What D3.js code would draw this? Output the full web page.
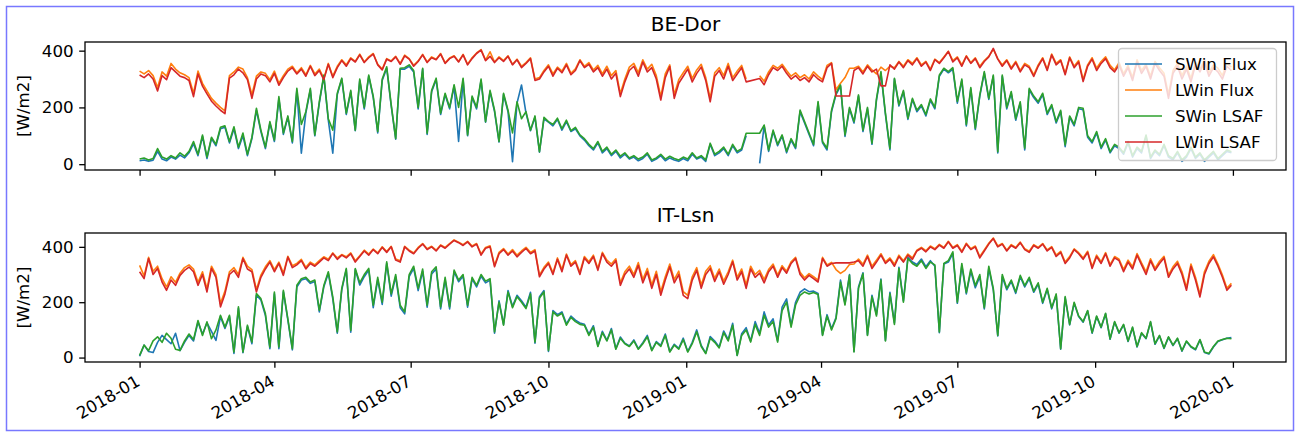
<!DOCTYPE html>
<html>
<head>
<meta charset="utf-8">
<script src="https://cdn.jsdelivr.net/npm/d3@7"></script>
<style>
  body { margin: 0; background: #fff; }
  text { font-family: "DejaVu Sans", sans-serif; fill: #000; }
</style>
</head>
<body>
<svg id="chart" width="1295" height="432"></svg>
<script>
// one value every 3 days, 2018-01-01 .. 2019-12-31 (null = missing day)
const startDate = new Date(2018, 0, 1);
const stepDays = 3;

const tickLabels = ['2018-01', '2018-04', '2018-07', '2018-10', '2019-01', '2019-04', '2019-07', '2019-10', '2020-01'];
const yTickValues = [0, 200, 400];
const seriesNames = ['SWin Flux', 'LWin Flux', 'SWin LSAF', 'LWin LSAF'];
const siteNames = ['BE-Dor', 'IT-Lsn'];

// BE-Dor
const beSwinFlux = [
  12, 15, 10, 14, 45, 18, 12, 25, 18, 32,
  22, 40, 72, 30, 98, 20, 90, 65, 125, 130,
  75, 125, 55, 100, 30, 90, 190, 115, 55, 145,
  80, 230, 105, 165, 75, 260, 39, 180, 262, 100,
  215, 310, 155, 39, 245, 300, 175, 255, 118, 295,
  195, 310, 235, 110, 295, 338, 205, 88, 335, 335,
  345, 325, 195, 335, 105, 255, 298, 175, 245, 195,
  275, 80, 298, 100, 235, 195, 295, 148, 255, 185,
  78, 245, 185, 9, 215, 279, 180, 118, 165, 42,
  160, 148, 135, 158, 120, 150, 115, 125, 100, 85,
  65, 50, 75, 40, 55, 30, 45, 22, 35, 18,
  25, 12, 20, 35, 10, 18, 30, 12, 22, 15,
  10, 20, 12, 35, 18, 25, 10, 70, 30, 40,
  55, 30, 65, 40, 50, 100, null, null, 3, 135,
  45, 115, 65, 100, 40, 85, 55, 185, 145, 105,
  65, 215, 75, 50, 185, 245, 275, 98, 195, 145,
  240, 115, 195, 70, 225, 320, 175, 50, 300, 205,
  255, 158, 228, 185, 205, 170, 225, 195, 310, 335,
  322, 335, 215, 295, 135, 265, 122, 240, 322, 228,
  310, 40, 310, 195, 250, 155, 215, 50, 262, 235,
  215, 245, 175, 205, 145, 185, 62, 165, 135, 195,
  192, 95, 75, 110, 55, 85, 40, 65, 55, 35,
  75, 25, 55, 40, 98, 20, 45, 30, 65, 25,
  15, 40, 10, 25, 55, 20, 35, 10, 25, 40,
  15, 30, 45, 40
];
const beLwinFlux = [
  328, 318, 330, 312, 270, 325, 310, 355, 335, 322,
  315, 305, 250, 328, 285, 258, 232, 215, 200, 188,
  312, 325, 342, 335, 305, 245, 310, 325, 320, 298,
  328, 285, 312, 335, 345, 322, 340, 315, 348, 318,
  335, 302, 355, 310, 345, 368, 350, 375, 362, 388,
  360, 378, 390, 352, 335, 372, 364, 380, 355, 384,
  372, 348, 364, 387, 360, 378, 370, 390, 357, 374,
  382, 362, 387, 352, 375, 392, 404, 367, 396, 360,
  378, 365, 382, 352, 370, 345, 358, 375, 300, 305,
  330, 350, 318, 342, 328, 355, 320, 336, 368, 345,
  358, 332, 348, 318, 345, 312, 330, 248, 300, 342,
  355, 322, 368, 335, 352, 312, 238, 318, 350, 245,
  298, 322, 345, 302, 332, 352, 305, 232, 322, 340,
  312, 355, 305, 328, 348, 300, null, null, 312, 292,
  325, 348, 338, 352, 330, 310, 322, 305, 315, 300,
  325, 310, 298, 348, 358, 262, 285, 305, 338, 338,
  345, 325, 350, 332, 318, 342, 330, 345, 340, 362,
  345, 368, 355, 375, 350, 362, 335, 370, 358, 378,
  398, 365, 378, 350, 382, 358, 375, 345, 365, 380,
  405, 372, 350, 368, 340, 362, 330, 355, 345, 315,
  350, 375, 335, 388, 355, 368, 320, 378, 345, 365,
  298, 350, 375, 338, 362, 378, 348, 332, 358, 318,
  348, 305, 368, 330, 352, 310, 362, 340, 320, 245,
  330, 355, 312, 345, 302, 360, 335, 368, 322, 350,
  338, 312, 355, 342
];
const beSwinLsaf = [
  18, 22, 15, 20, 55, 25, 18, 30, 22, 40,
  28, 45, 80, 35, 103, 25, 95, 70, 130, 135,
  80, 132, 60, 110, 35, 95, 197, 120, 60, 150,
  85, 238, 110, 170, 80, 267, 140, 185, 267, 103,
  220, 314, 160, 120, 250, 303, 180, 260, 120, 300,
  200, 314, 240, 115, 300, 343, 210, 91, 338, 340,
  350, 330, 200, 338, 109, 260, 303, 180, 250, 200,
  280, 200, 303, 103, 240, 200, 300, 150, 260, 190,
  80, 250, 190, 110, 220, 160, 185, 120, 170, 44,
  165, 150, 140, 162, 125, 155, 118, 130, 103, 90,
  70, 55, 80, 45, 60, 35, 50, 28, 40, 22,
  30, 18, 25, 40, 15, 22, 35, 18, 28, 20,
  15, 25, 18, 40, 22, 30, 15, 74, 35, 45,
  60, 35, 70, 45, 55, 109, null, null, 109, 138,
  50, 120, 70, 103, 45, 90, 60, 191, 150, 110,
  70, 221, 80, 56, 190, 250, 279, 103, 200, 150,
  244, 120, 200, 74, 230, 326, 180, 56, 303, 210,
  260, 162, 232, 190, 210, 175, 230, 200, 314, 338,
  326, 340, 221, 300, 140, 270, 127, 244, 326, 232,
  314, 44, 314, 200, 256, 160, 220, 56, 267, 240,
  220, 250, 180, 210, 150, 190, 68, 170, 140, 200,
  197, 100, 80, 115, 60, 90, 44, 70, 60, 40,
  80, 30, 60, 45, 103, 25, 50, 35, 70, 30,
  20, 45, 15, 30, 60, 25, 40, 15, 30, 45,
  20, 35, 50, 44
];
const beLwinLsaf = [
  314, 305, 318, 300, 258, 312, 298, 340, 325, 310,
  305, 295, 238, 318, 275, 248, 222, 205, 190, 178,
  303, 315, 335, 322, 298, 232, 300, 318, 312, 290,
  320, 278, 305, 328, 340, 318, 335, 310, 345, 312,
  330, 298, 352, 305, 340, 365, 345, 372, 360, 385,
  358, 375, 388, 350, 332, 370, 362, 378, 352, 382,
  370, 345, 362, 385, 358, 375, 368, 388, 355, 372,
  380, 360, 385, 350, 372, 390, 402, 365, 380, 358,
  375, 362, 380, 350, 368, 340, 355, 372, 295, 300,
  325, 345, 310, 338, 322, 350, 315, 330, 365, 340,
  352, 325, 340, 310, 335, 300, 320, 238, 290, 330,
  345, 310, 360, 325, 340, 300, 226, 305, 344, 232,
  285, 310, 335, 290, 320, 342, 295, 220, 310, 330,
  300, 345, 295, 318, 340, 290, null, null, 302, 280,
  315, 340, 330, 345, 320, 300, 312, 295, 305, 290,
  315, 300, 290, 340, 355, 240, null, null, 240, 330,
  340, 318, 345, 325, 335, 276, 276, 350, 335, 360,
  340, 365, 350, 372, 345, 360, 330, 368, 355, 375,
  397, 360, 375, 345, 380, 355, 372, 340, 362, 378,
  408, 370, 345, 365, 335, 358, 325, 350, 340, 309,
  345, 372, 330, 385, 350, 365, 315, 375, 340, 360,
  291, 345, 370, 330, 355, 372, 340, 325, 350, 310,
  340, 295, 360, 320, 345, 300, 355, 330, 310, 232,
  320, 345, 300, 335, 290, 350, 325, 361, 310, 340,
  325, 300, 345, 330
];

// IT-Lsn
const itSwinFlux = [
  5, 45, 22, 18, 55, 80, 65, 50, 88, 25,
  55, 80, 60, 128, 85, 125, 95, 62, 148, 105,
  148, 15, 178, 18, 112, 50, 225, 208, 152, 32,
  230, 32, 238, 135, 28, 255, 280, 285, 268, 275,
  165, 255, 305, 212, 88, 245, 318, 92, 318, 262,
  292, 316, 180, 282, 192, 340, 222, 292, 180, 158,
  292, 322, 242, 312, 182, 302, 320, 176, 282, 176,
  310, 274, 294, 182, 284, 255, 294, 270, 280, 88,
  205, 120, 242, 185, 225, 205, 182, 236, 52, 220,
  242, 22, 170, 155, 165, 122, 150, 135, 125, 120,
  85, 115, 42, 95, 62, 105, 32, 74, 52, 42,
  64, 32, 54, 80, 27, 58, 44, 85, 22, 48,
  33, 70, 22, 55, 100, 44, 16, 76, 60, 38,
  96, 65, 124, 8, 86, 108, 60, 130, 88, 165,
  118, 140, 60, 182, 212, 116, 200, 236, 248, 238,
  240, 232, 82, 155, 104, 145, 280, 195, 300, 22,
  255, 306, 82, 225, 155, 284, 62, 236, 125, 326,
  205, 362, 345, 336, 356, 328, 350, 330, 90, 338,
  345, 376, 196, 332, 230, 312, 252, 292, 176, 322,
  245, 78, 292, 245, 275, 232, 292, 255, 285, 236,
  265, 196, 246, 176, 226, 30, 216, 118, 196, 148,
  128, 168, 88, 148, 108, 158, 66, 128, 88, 118,
  58, 108, 38, 88, 68, 128, 48, 78, 33, 73,
  43, 68, 23, 58, 38, 28, 63, 18, 13, 38,
  58, 64, 70, 72
];
const itLwinFlux = [
  333, 295, 362, 312, 330, 285, 255, 292, 272, 305,
  325, 335, 320, 272, 310, 248, 330, 300, 195, 240,
  310, 325, 300, 362, 330, 318, 245, 298, 328, 350,
  318, 345, 305, 366, 332, 340, 355, 326, 345, 335,
  350, 364, 355, 378, 360, 372, 364, 378, 350, 368,
  388, 374, 392, 378, 400, 383, 402, 356, 350, 402,
  388, 378, 398, 412, 393, 402, 388, 407, 398, 412,
  425, 417, 408, 420, 403, 412, 374, 398, 404, 333,
  380, 394, 374, 390, 370, 385, 398, 380, 390, 298,
  326, 345, 306, 360, 318, 374, 336, 350, 308, 365,
  346, 370, 322, 380, 352, 338, 357, 270, 310, 330,
  300, 343, 282, 322, 262, 312, 238, 292, 338, 282,
  312, 238, 225, 292, 325, 262, 312, 332, 286, 320,
  276, 310, 352, 290, 320, 262, 330, 300, 315, 282,
  318, 338, 298, 332, 312, 346, 362, 308, 288, 303,
  292, 280, 362, 335, 344, 318, 304, 315, 336, 338,
  356, 337, 370, 330, 352, 375, 346, 360, 337, 370,
  350, 374, 360, 388, 398, 386, 403, 393, 409, 398,
  420, 398, 408, 384, 413, 393, 403, 365, 389, 413,
  432, 403, 412, 388, 408, 398, 417, 393, 384, 408,
  398, 412, 389, 401, 370, 384, 345, 365, 393, 379,
  360, 384, 328, 370, 346, 379, 336, 365, 355, 318,
  352, 328, 376, 342, 310, 357, 322, 348, 366, 298,
  328, 348, 310, 252, 338, 290, 228, 310, 348, 372,
  338, 298, 250, 268
];
const itSwinLsaf = [
  8, 45, 25, 60, 75, 55, 88, 70, 30, 26,
  60, 85, 65, 134, 80, 129, 68, 100, 153, 110,
  153, 20, 183, 20, 117, 56, 231, 213, 159, 38,
  237, 38, 243, 140, 32, 261, 285, 290, 273, 280,
  171, 260, 310, 219, 93, 250, 322, 98, 322, 270,
  300, 322, 189, 290, 200, 346, 230, 300, 189, 165,
  300, 330, 250, 320, 189, 310, 328, 183, 290, 183,
  316, 280, 300, 189, 290, 261, 300, 276, 285, 93,
  200, 117, 237, 180, 220, 200, 177, 230, 56, 215,
  237, 26, 165, 150, 160, 117, 145, 130, 120, 117,
  80, 110, 40, 90, 60, 100, 30, 70, 50, 40,
  60, 30, 50, 75, 25, 55, 40, 80, 20, 45,
  30, 65, 20, 50, 93, 40, 14, 70, 55, 35,
  90, 60, 117, 8, 80, 100, 56, 120, 80, 153,
  110, 130, 56, 170, 200, 110, 190, 225, 237, 230,
  235, 228, 80, 150, 100, 140, 273, 190, 297, 20,
  250, 303, 80, 220, 150, 280, 60, 230, 120, 322,
  200, 358, 340, 330, 350, 322, 345, 335, 93, 340,
  350, 382, 200, 340, 235, 320, 260, 300, 180, 330,
  250, 80, 300, 250, 280, 237, 297, 260, 290, 240,
  270, 200, 250, 180, 230, 32, 220, 120, 200, 150,
  130, 170, 90, 150, 110, 160, 68, 130, 90, 120,
  60, 110, 40, 90, 70, 130, 50, 80, 35, 75,
  45, 70, 25, 60, 40, 30, 65, 20, 15, 40,
  60, 65, 70, 68
];
const itLwinLsaf = [
  310, 285, 358, 300, 322, 273, 243, 280, 261, 297,
  315, 327, 310, 261, 300, 237, 322, 290, 183, 230,
  300, 315, 290, 358, 320, 310, 237, 290, 320, 345,
  310, 340, 297, 363, 325, 335, 350, 320, 340, 330,
  345, 360, 350, 376, 355, 370, 360, 375, 345, 365,
  385, 370, 390, 375, 398, 380, 400, 352, 345, 400,
  385, 375, 395, 410, 390, 400, 385, 405, 395, 410,
  423, 415, 405, 418, 400, 410, 370, 395, 400, 328,
  375, 390, 370, 385, 364, 380, 394, 375, 385, 292,
  320, 340, 300, 355, 310, 370, 330, 345, 300, 360,
  340, 365, 315, 376, 345, 330, 350, 261, 300, 320,
  290, 333, 270, 310, 250, 300, 225, 280, 328, 270,
  300, 225, 213, 280, 315, 250, 300, 322, 275, 310,
  265, 300, 346, 280, 310, 250, 320, 290, 305, 270,
  310, 330, 290, 325, 305, 340, 358, 300, 280, 297,
  285, 273, 358, 330, 340, 342, null, null, 342, 345,
  350, 330, 365, 322, 345, 370, 340, 355, 330, 365,
  345, 370, 355, 385, 395, 382, 400, 390, 406, 395,
  418, 395, 405, 380, 410, 390, 400, 360, 385, 410,
  430, 400, 410, 385, 405, 395, 415, 390, 380, 405,
  395, 410, 385, 398, 365, 380, 340, 360, 390, 375,
  355, 380, 322, 365, 340, 375, 330, 360, 350, 310,
  345, 320, 370, 335, 300, 350, 315, 340, 360, 290,
  320, 340, 300, 243, 330, 280, 219, 300, 340, 364,
  330, 290, 243, 261
];

const colors = ['#1f77b4', '#ff7f0e', '#2ca02c', '#d62728'];
const fs = 16.7;

const svg = d3.select('#chart');
svg.append('rect').attr('width', 1295).attr('height', 432).attr('fill', '#fff');

const dates = beSwinLsaf.map((_, i) => d3.timeDay.offset(startDate, i * stepDays));
const lastDate = dates[dates.length - 1];
const padMs = (lastDate - startDate) * 0.05;

const x = d3.scaleTime()
  .domain([new Date(+startDate - padMs), new Date(+lastDate + padMs)])
  .range([85, 1286]);

const tickDates = tickLabels.map(d => d3.timeParse('%Y-%m')(d));

function drawPanel(opts) {
  const { top, bottom, yDomain, title, series, showLabels, legend } = opts;
  const y = d3.scaleLinear().domain(yDomain).range([bottom, top]);
  const g = svg.append('g');

  // lines: flux data breaks on missing days, LSAF joins across them
  series.forEach((vals, k) => {
    const pts = vals.map((v, i) => ({ date: dates[i], v: v }));
    const isLsaf = k >= 2;
    const line = d3.line()
      .defined(d => d.v != null)
      .x(d => x(d.date))
      .y(d => y(d.v));
    g.append('path')
      .datum(isLsaf ? pts.filter(d => d.v != null) : pts)
      .attr('d', line)
      .attr('fill', 'none')
      .attr('stroke', colors[k])
      .attr('stroke-width', 1.6)
      .attr('stroke-linejoin', 'round');
  });

  // y axis
  const ya = g.append('g')
    .attr('transform', 'translate(85,0)')
    .call(d3.axisLeft(y).tickValues(yTickValues).tickSize(5.8).tickPadding(5.5));
  ya.select('.domain').remove();
  ya.selectAll('line').attr('stroke', '#000').attr('stroke-width', 1.3);
  ya.selectAll('text').style('font-size', fs + 'px').attr('fill', '#000');

  // x axis
  const xa = g.append('g')
    .attr('transform', `translate(0,${bottom})`)
    .call(d3.axisBottom(x).tickValues(tickDates).tickSize(5.8)
      .tickFormat((d, i) => showLabels ? tickLabels[i] : ''));
  xa.select('.domain').remove();
  xa.selectAll('line').attr('stroke', '#000').attr('stroke-width', 1.3);
  xa.selectAll('text')
    .style('font-size', fs + 'px')
    .attr('fill', '#000')
    .attr('text-anchor', 'end')
    .attr('x', 0).attr('y', 0).attr('dy', '0.74em')
    .attr('transform', 'translate(-5,12) rotate(-30)');

  // frame
  g.append('rect')
    .attr('x', 85).attr('y', top)
    .attr('width', 1201).attr('height', bottom - top)
    .attr('fill', 'none').attr('stroke', '#000').attr('stroke-width', 1.3);

  // title and y label
  g.append('text')
    .attr('x', (85 + 1286) / 2).attr('y', top - 11)
    .attr('text-anchor', 'middle')
    .style('font-size', '20px')
    .text(title);

  g.append('text')
    .attr('transform', `translate(29,${(top + bottom) / 2}) rotate(-90)`)
    .attr('text-anchor', 'middle')
    .style('font-size', fs + 'px')
    .text('[W/m2]');

  if (legend) {
    const lg = g.append('g');
    lg.append('rect')
      .attr('x', 1118.5).attr('y', 48.5).attr('width', 158).attr('height', 112)
      .attr('rx', 3.5)
      .attr('fill', '#fff').attr('fill-opacity', 0.8)
      .attr('stroke', '#ccc').attr('stroke-width', 1.3);
    seriesNames.forEach((name, k) => {
      const ry = 64 + k * 26;
      lg.append('line')
        .attr('x1', 1125).attr('x2', 1162).attr('y1', ry).attr('y2', ry)
        .attr('stroke', colors[k]).attr('stroke-width', 1.6);
      lg.append('text')
        .attr('x', 1175).attr('y', ry).attr('dy', '0.36em')
        .style('font-size', fs + 'px')
        .text(name);
    });
  }
}

drawPanel({
  top: 42, bottom: 170, yDomain: [-20.5, 430.5], title: siteNames[0],
  series: [beSwinFlux, beLwinFlux, beSwinLsaf, beLwinLsaf],
  showLabels: false, legend: true
});
drawPanel({
  top: 233, bottom: 362, yDomain: [-16, 450], title: siteNames[1],
  series: [itSwinFlux, itLwinFlux, itSwinLsaf, itLwinLsaf],
  showLabels: true, legend: false
});

// figure border
svg.append('rect')
  .attr('x', 6.5).attr('y', 6.5).attr('width', 1287).attr('height', 424)
  .attr('fill', 'none').attr('stroke', '#7878ff').attr('stroke-width', 1.5);
</script>
</body>
</html>
